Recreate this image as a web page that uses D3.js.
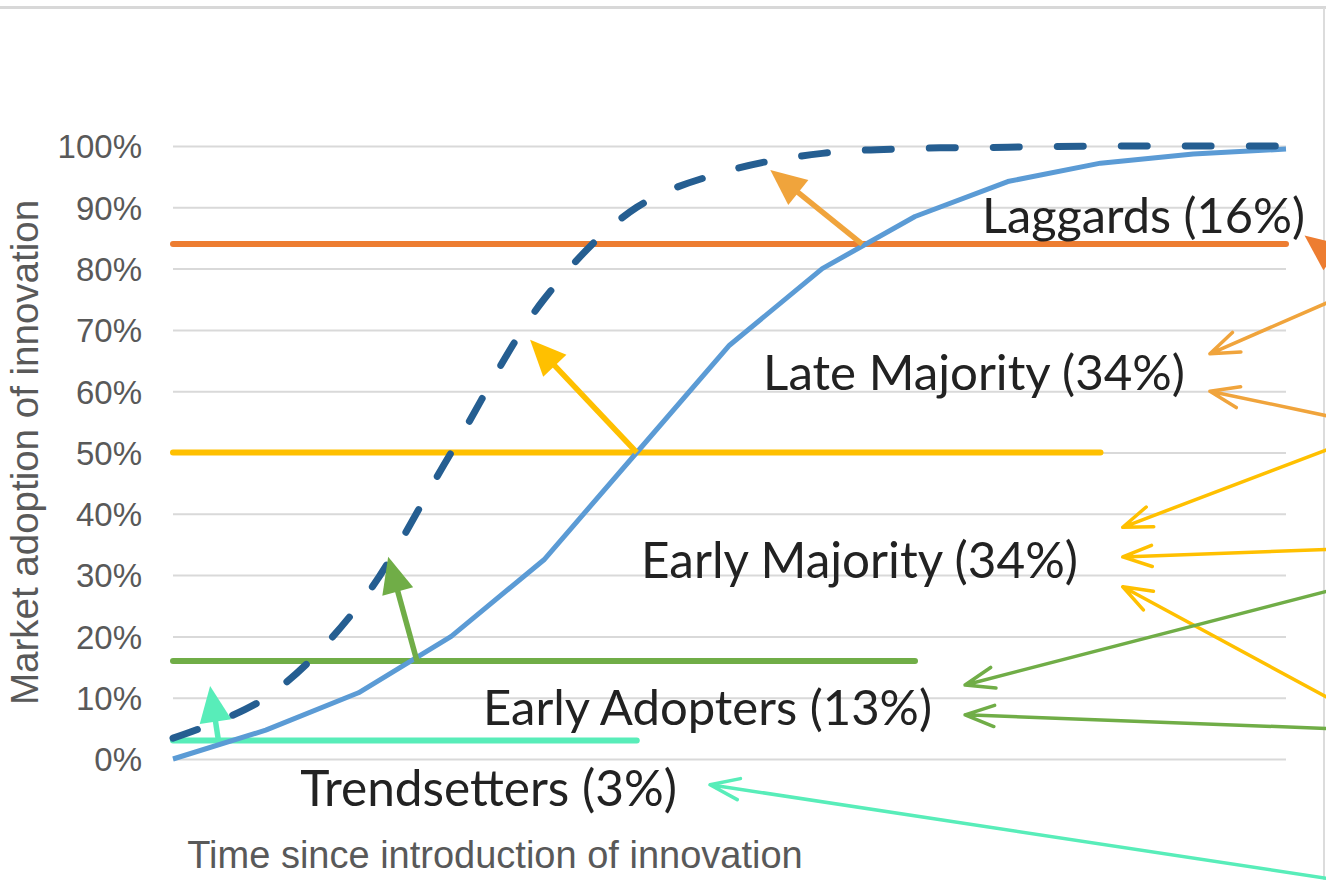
<!DOCTYPE html>
<html>
<head>
<meta charset="utf-8">
<script src="https://cdn.jsdelivr.net/npm/d3@7"></script>
<style>
    body { margin: 0; background: #fff; }
    svg { display: block; }
</style>
</head>
<body>
<svg id="chart" width="1326" height="880"></svg>
<script>
// time steps since the innovation was introduced (axis has no labels)
var periods = [0, 1, 2, 3, 4, 5, 6, 7, 8, 9, 10, 11, 12];
// market adoption, % (solid curve)
var adoption = [0, 4.7, 10.8, 20, 32.5, 50, 67.5, 80, 88.5, 94.2, 97.2, 98.7, 99.5];
// faster adoption, % (dashed curve)
var adoptionFast = [3.4, 10, 25, 50, 75, 90, 96, 98.8, 99.6, 99.8, 100, 100, 100];
var yTicks = [0, 10, 20, 30, 40, 50, 60, 70, 80, 90, 100];

// adopter groups: cumulative level where each group's line sits, and where the line stops
var groupNames = ["Trendsetters (3%)", "Early Adopters (13%)", "Early Majority (34%)", "Late Majority (34%)", "Laggards (16%)"];
var groupLevels = [3, 16, 50, 84];
var groupLineEnds = [5, 8, 10, 12];
var groupColors = ["#58edb9", "#70ad47", "#ffc000", "#ed7d31"];

// thick arrows: from the solid curve up to the dashed curve [period, %]
var shiftFrom = [[0.49, 3], [2.63, 16], [5.0, 50], [7.43, 84]];
var shiftTo = [[0.40, 11.9], [2.32, 33], [3.85, 68.4], [6.44, 96.1]];
var shiftColors = ["#58edb9", "#70ad47", "#ffc000", "#f0a43c"];

// thin pointer arrows coming in from the right [period, %]
var pointerTips = [[11.18, 66.1], [11.18, 60.0], [10.24, 37.8], [10.24, 32.96], [10.24, 28.1],
                   [8.54, 12.07], [8.54, 7.2], [5.79, -4.2]];
var pointerTails = [[12.5, 74.8], [12.5, 55.8], [12.5, 50.8], [12.5, 34.2], [12.5, 9.6],
                    [12.5, 27.6], [12.5, 4.95], [12.5, -19.6]];
var pointerColors = ["#f0a43c", "#f0a43c", "#ffc000", "#ffc000", "#ffc000",
                     "#70ad47", "#70ad47", "#58edb9"];

// where the group labels go (right edge, baseline, target width) - layout only
var labelLayout = [
    { right: 677, base: 806, width: 377 },
    { right: 932, base: 725, width: 449 },
    { right: 1078, base: 578, width: 437 },
    { right: 1185, base: 390, width: 422 },
    { right: 1305, base: 233, width: 323 }
];

(function () {
    var svg = d3.select("#chart");
    var W = 1326, H = 880;
    var plotLeft = 173, plotRight = 1286, plotTop = 146, plotBottom = 759;

    var x = d3.scaleLinear().domain([0, 12]).range([plotLeft, plotRight]);
    var y = d3.scaleLinear().domain([0, 100]).range([plotBottom, plotTop]);

    // frame lines at top and right
    svg.append("rect").attr("x", 0).attr("y", 6).attr("width", W).attr("height", 3).attr("fill", "#d8d8d8");
    svg.append("line").attr("x1", 1324).attr("x2", 1324).attr("y1", 8).attr("y2", H)
        .attr("stroke", "#dcdcdc").attr("stroke-width", 2);

    // y axis with gridlines
    var yAxis = svg.append("g")
        .attr("transform", "translate(" + plotLeft + ",0)")
        .call(d3.axisLeft(y).tickValues(yTicks).tickSizeInner(-(plotRight - plotLeft)).tickSizeOuter(0)
            .tickPadding(31).tickFormat(function (d) { return d + "%"; }));
    yAxis.select(".domain").remove();
    yAxis.selectAll(".tick line").attr("stroke", "#d9d9d9").attr("stroke-width", 2);
    yAxis.selectAll(".tick text")
        .attr("fill", "#595959")
        .style("font-family", "'Liberation Sans', Arial, sans-serif")
        .style("font-size", "33px")
        .attr("dy", "0.36em");

    // axis titles
    svg.append("text")
        .attr("transform", "translate(38," + ((plotTop + plotBottom) / 2) + ") rotate(-90)")
        .attr("text-anchor", "middle")
        .attr("fill", "#595959")
        .style("font-family", "'Liberation Sans', Arial, sans-serif")
        .style("font-size", "38.5px")
        .text("Market adoption of innovation");

    svg.append("text")
        .attr("x", 495).attr("y", 868)
        .attr("text-anchor", "middle")
        .attr("fill", "#595959")
        .style("font-family", "'Liberation Sans', Arial, sans-serif")
        .style("font-size", "38px")
        .text("Time since introduction of innovation");

    // group level lines
    svg.append("g").selectAll("line")
        .data(groupLevels)
        .enter().append("line")
        .attr("x1", x(0))
        .attr("x2", function (d, i) { return x(groupLineEnds[i]); })
        .attr("y1", function (d) { return y(d); })
        .attr("y2", function (d) { return y(d); })
        .attr("stroke", function (d, i) { return groupColors[i]; })
        .attr("stroke-width", 6)
        .attr("stroke-linecap", "round");

    // the two adoption curves
    var solidLine = d3.line()
        .x(function (d, i) { return x(periods[i]); })
        .y(function (d) { return y(d); });
    var dashedLine = d3.line()
        .curve(d3.curveCatmullRom.alpha(0.5))
        .x(function (d, i) { return x(periods[i]); })
        .y(function (d) { return y(d); });

    svg.append("path")
        .datum(adoption)
        .attr("d", solidLine)
        .attr("fill", "none")
        .attr("stroke", "#5b9bd5")
        .attr("stroke-width", 5)
        .attr("stroke-linejoin", "round");

    svg.append("path")
        .datum(adoptionFast)
        .attr("d", dashedLine)
        .attr("fill", "none")
        .attr("stroke", "#255e91")
        .attr("stroke-width", 7)
        .attr("stroke-linecap", "round")
        .attr("stroke-dasharray", "26,38");

    function drawThickArrow(g, from, to, color) {
        var x1 = x(from[0]), y1 = y(from[1]), x2 = x(to[0]), y2 = y(to[1]);
        var dx = x2 - x1, dy = y2 - y1, len = Math.sqrt(dx * dx + dy * dy);
        var ux = dx / len, uy = dy / len;
        var headLen = 36, headW = 16;
        var bx = x2 - ux * headLen, by = y2 - uy * headLen;
        g.append("line")
            .attr("x1", x1).attr("y1", y1)
            .attr("x2", bx + ux * 4).attr("y2", by + uy * 4)
            .attr("stroke", color).attr("stroke-width", 5.5);
        g.append("path")
            .attr("d", "M" + x2 + "," + y2 +
                "L" + (bx - uy * headW) + "," + (by + ux * headW) +
                "L" + (bx + uy * headW) + "," + (by - ux * headW) + "Z")
            .attr("fill", color);
    }

    function drawThinArrow(g, tip, tail, color) {
        var x1 = x(tail[0]), y1 = y(tail[1]), x2 = x(tip[0]), y2 = y(tip[1]);
        var dx = x1 - x2, dy = y1 - y2, len = Math.sqrt(dx * dx + dy * dy);
        var ux = dx / len, uy = dy / len;
        var a = 20 * Math.PI / 180, arm = 31;
        var ax1 = x2 + arm * (ux * Math.cos(a) - uy * Math.sin(a));
        var ay1 = y2 + arm * (ux * Math.sin(a) + uy * Math.cos(a));
        var ax2 = x2 + arm * (ux * Math.cos(-a) - uy * Math.sin(-a));
        var ay2 = y2 + arm * (ux * Math.sin(-a) + uy * Math.cos(-a));
        g.append("path")
            .attr("d", "M" + x1 + "," + y1 + "L" + x2 + "," + y2 +
                "M" + ax1 + "," + ay1 + "L" + x2 + "," + y2 + "L" + ax2 + "," + ay2)
            .attr("fill", "none")
            .attr("stroke", color)
            .attr("stroke-width", 3.5)
            .attr("stroke-linecap", "round")
            .attr("stroke-linejoin", "round");
    }

    var arrows = svg.append("g");
    shiftFrom.forEach(function (f, i) { drawThickArrow(arrows, f, shiftTo[i], shiftColors[i]); });
    pointerTips.forEach(function (t, i) { drawThinArrow(arrows, t, pointerTails[i], pointerColors[i]); });
    // laggards pointer, mostly off the right edge
    drawThickArrow(arrows, [12.75, 79], [12.2, 85.4], "#ed7d31");

    // group labels, sized to fill their box
    var labels = svg.append("g").selectAll("text")
        .data(groupNames)
        .enter().append("text")
        .attr("x", function (d, i) { return labelLayout[i].right; })
        .attr("y", function (d, i) { return labelLayout[i].base; })
        .attr("text-anchor", "end")
        .attr("fill", "#222")
        .style("font-family", "Lato, 'Open Sans', sans-serif")
        .style("font-size", "50px")
        .text(function (d) { return d; });

    labels.each(function (d, i) {
        var len = this.getComputedTextLength();
        d3.select(this).style("font-size", (50 * labelLayout[i].width / len) + "px");
    });
})();
</script>
</body>
</html>
